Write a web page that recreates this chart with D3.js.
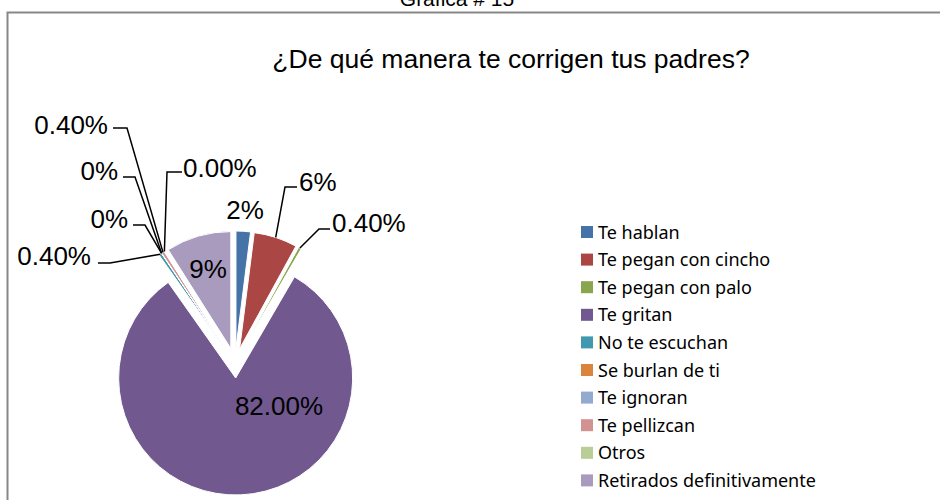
<!DOCTYPE html>
<html><head><meta charset="utf-8">
<script src="https://cdn.jsdelivr.net/npm/d3@7"></script>
<style>body{margin:0;background:#fff}svg{display:block}</style>
</head><body>
<svg id="chart" width="940" height="500"></svg>
<script>
const categories = ["Te hablan","Te pegan con cincho","Te pegan con palo","Te gritan","No te escuchan","Se burlan de ti","Te ignoran","Te pellizcan","Otros","Retirados definitivamente"];
const values = [2, 6, 0.4, 82, 0.4, 0, 0, 0.4, 0, 9];
const labelTexts = ["2%","6%","0.40%","82.00%","0.40%","0%","0%","0.40%","0.00%","9%"];
const colors = ["#4572A7","#AA4643","#89A54E","#71588F","#4198AF","#DB843D","#93A9CF","#D19392","#B9CD96","#A99BBD"];
const chartTitle = "¿De qué manera te corrigen tus padres?";
const pageTitle = "Gráfica # 15";

// layout
const cx = 235, cy = 363, R = 117, explode = 15;
const labelLayout = [
  {x:245, y:219, anchor:"middle"},
  {x:299, y:191, anchor:"start", line:[297,285,187]},
  {x:332, y:232, anchor:"start", line:[330,319,229]},
  {x:279, y:415, anchor:"middle"},
  {x:91,  y:265, anchor:"end", line:[98,110,263]},
  {x:128, y:228, anchor:"end", line:[133,145,225]},
  {x:118, y:180, anchor:"end", line:[123,135,177]},
  {x:108, y:134, anchor:"end", line:[113,127,128]},
  {x:183, y:177, anchor:"start", line:[182,167,172]},
  {x:208, y:278, anchor:"middle"}
];

const svg = d3.select("#chart");
const font = "'Liberation Sans', Arial, sans-serif";

svg.append("rect").attr("x",7.5).attr("y",12.5).attr("width",960).attr("height",520)
  .attr("fill","none").attr("stroke","#878787").attr("stroke-width",2);

svg.append("text").attr("x",457).attr("y",6).attr("text-anchor","middle")
  .attr("font-family",font).attr("font-size",21).attr("fill","#000").text(pageTitle);

svg.append("text").attr("x",511).attr("y",68).attr("text-anchor","middle")
  .attr("font-family",font).attr("font-size",26.5).attr("fill","#000").text(chartTitle);

const pie = d3.pie().sort(null).value(d => d)(values);
const arc = d3.arc().innerRadius(0).outerRadius(R);
const off = a => { const m = (a.startAngle + a.endAngle)/2; return [explode*Math.sin(m), -explode*Math.cos(m)]; };

const g = svg.append("g").attr("transform",`translate(${cx},${cy})`);
g.selectAll("path.slice").data(pie).join("path").attr("class","slice")
  .attr("transform", d => { const o = off(d); return `translate(${o[0]},${o[1]})`; })
  .attr("d", arc)
  .attr("fill", (d,i) => colors[i])
  .attr("stroke","#fff").attr("stroke-width",1);

pie.forEach((d,i) => {
  const L = labelLayout[i];
  if (!L.line) return;
  const o = off(d);
  const m = (d.startAngle + d.endAngle)/2;
  const ax = cx + o[0] + R*Math.sin(m), ay = cy + o[1] - R*Math.cos(m);
  const [hx, ex, ly] = L.line;
  svg.append("polyline")
    .attr("points", `${hx},${ly} ${ex},${ly} ${ax},${ay}`)
    .attr("fill","none").attr("stroke","#000").attr("stroke-width",1.5);
});

svg.selectAll("text.lbl").data(labelLayout).join("text").attr("class","lbl")
  .attr("x", d => d.x).attr("y", d => d.y).attr("text-anchor", d => d.anchor)
  .attr("font-family",font).attr("font-size",26).attr("fill","#000")
  .text((d,i) => labelTexts[i]);

const leg = svg.append("g");
const ly0 = 232, lstep = 27.6;
categories.forEach((c,i) => {
  const y = ly0 + i*lstep;
  leg.append("rect").attr("x",581).attr("y",y-6).attr("width",12).attr("height",12).attr("fill",colors[i]);
  leg.append("text").attr("x",598).attr("y",y+6.5).attr("font-family","'Noto Sans', sans-serif")
    .attr("font-size",18).attr("fill","#000").text(c);
});
</script>
</body></html>
